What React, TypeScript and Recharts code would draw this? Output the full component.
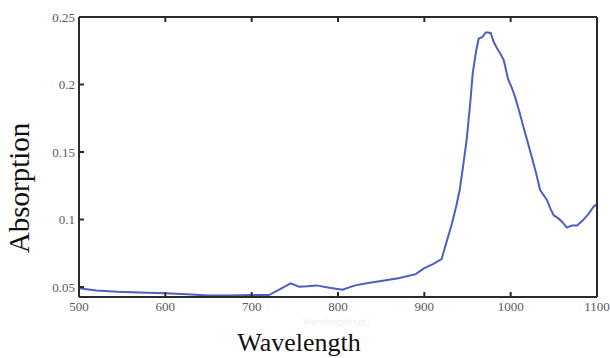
import { LineChart, Line, XAxis, YAxis } from 'recharts';

const wavelengths = [
  500, 520, 545, 570, 600, 625, 650, 675, 700, 720, 732, 745, 755, 765, 775, 790, 805, 820, 835, 850,
  870, 890, 900, 910, 920, 926, 932, 937, 941, 945, 949, 953, 956, 960, 963, 967, 971, 974, 977, 980,
  984, 988, 992, 997, 1001, 1005, 1010, 1015, 1019, 1025, 1030, 1034, 1042, 1046, 1050, 1055, 1060,
  1065, 1071, 1077, 1083, 1090, 1096, 1100,
];
const absorption = [
  0.049, 0.0475, 0.0465, 0.046, 0.0454, 0.0447, 0.0438, 0.0438, 0.0441, 0.044, 0.048, 0.0527, 0.0502,
  0.0505, 0.0512, 0.0495, 0.048, 0.0512, 0.053, 0.0545, 0.0565, 0.0595, 0.064, 0.067, 0.0707, 0.084,
  0.097, 0.11, 0.122, 0.14, 0.159, 0.185, 0.208, 0.225, 0.234, 0.235, 0.2385, 0.2385, 0.238, 0.232,
  0.227, 0.223, 0.218, 0.204, 0.198, 0.191, 0.18, 0.168, 0.159, 0.145, 0.133, 0.122, 0.1145, 0.108,
  0.103, 0.101, 0.098, 0.094, 0.0955, 0.0955, 0.099, 0.104, 0.1095, 0.1115,
];
const xTicks = [500, 600, 700, 800, 900, 1000, 1100];
const yTicks = [0.05, 0.1, 0.15, 0.2, 0.25];

const data = wavelengths.map((w, i) => ({ w, a: absorption[i] }));

const serif = '"Liberation Serif", "DejaVu Serif", serif';
const axisStroke = '#2b2b2b';
const tickStyle = { fontSize: 13, fill: '#5a5a5a', fontFamily: serif };

export default function App() {
  return (
    <div style={{ position: 'absolute', left: 0, top: 0, width: 610, height: 358, background: '#fff' }}>
      <LineChart width={610} height={358} data={data} margin={{ top: 0, right: 0, left: 0, bottom: 0 }}>
        <XAxis
          xAxisId="b"
          dataKey="w"
          type="number"
          domain={[500, 1100]}
          ticks={xTicks}
          height={61}
          tickSize={-5}
          tickMargin={10}
          stroke={axisStroke}
          strokeWidth={2}
          tick={tickStyle}
          interval={0}
          allowDataOverflow
        />
        <XAxis
          xAxisId="t"
          orientation="top"
          dataKey="w"
          type="number"
          domain={[500, 1100]}
          ticks={xTicks}
          height={17}
          tickSize={-5}
          stroke={axisStroke}
          strokeWidth={2}
          tickFormatter={() => ''}
          interval={0}
        />
        <YAxis
          yAxisId="l"
          type="number"
          domain={[0.0426, 0.25]}
          ticks={yTicks}
          width={79}
          tickSize={-5}
          tickMargin={9}
          stroke={axisStroke}
          strokeWidth={2}
          tick={tickStyle}
          interval={0}
          allowDataOverflow
        />
        <YAxis
          yAxisId="r"
          orientation="right"
          type="number"
          domain={[0.0426, 0.25]}
          ticks={yTicks}
          width={13}
          tickSize={-5}
          stroke={axisStroke}
          strokeWidth={2}
          tickFormatter={() => ''}
          interval={0}
        />
        <Line
          xAxisId="b"
          yAxisId="l"
          type="linear"
          dataKey="a"
          stroke="#4f5fbf"
          strokeWidth={2}
          dot={false}
          isAnimationActive={false}
        />
      </LineChart>
      <svg
        width={610}
        height={358}
        style={{ position: 'absolute', left: 0, top: 0, pointerEvents: 'none' }}
      >
        <text
          x={29}
          y={188}
          transform="rotate(-90 29 188)"
          textAnchor="middle"
          fontFamily={serif}
          fontSize={29}
          fill="#111"
        >
          Absorption
        </text>
        <text x={336} y={325} textAnchor="middle" fontFamily={serif} fontSize={10} fill="#f0f0f0">
          Wavelength(nm)
        </text>
        <text x={299} y={351} textAnchor="middle" fontFamily={serif} fontSize={26} fill="#111">
          Wavelength
        </text>
      </svg>
    </div>
  );
}
